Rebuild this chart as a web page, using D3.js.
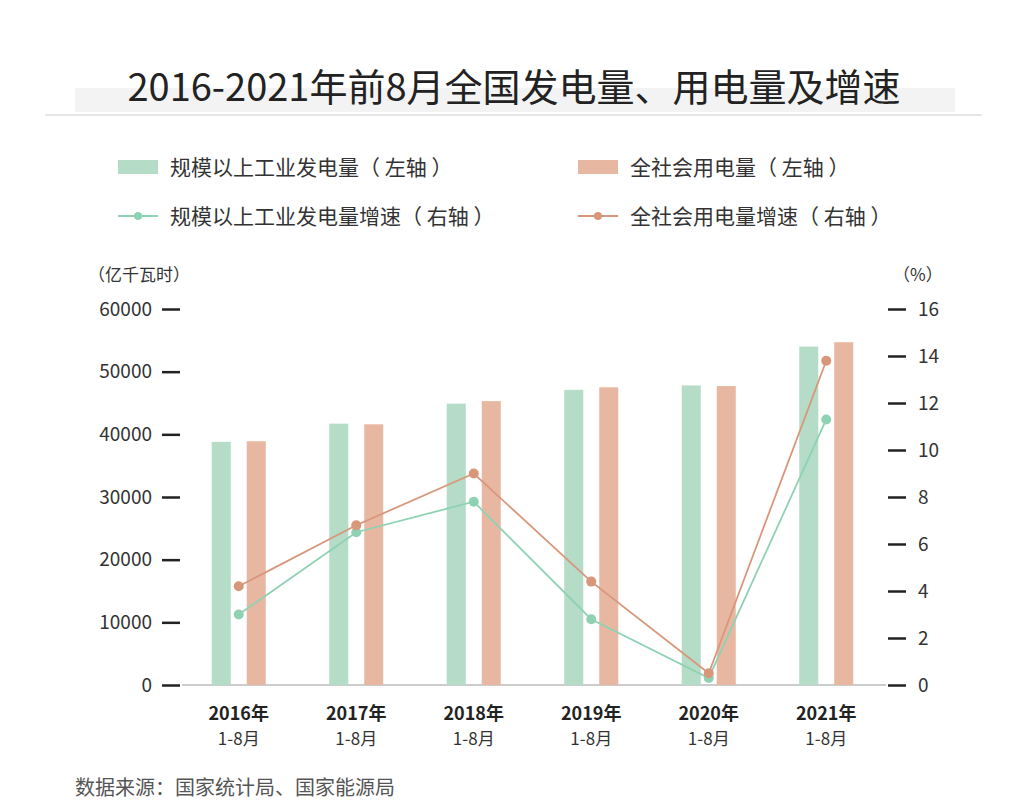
<!DOCTYPE html>
<html><head><meta charset="utf-8">
<script src="https://cdn.jsdelivr.net/npm/d3@7"></script>
<style>body{margin:0;background:#fff}text{font-family:"Noto Sans CJK SC","Noto Sans",sans-serif}</style>
</head><body>
<svg id="c" width="1024" height="803"></svg>
<script>
const years = ["2016年", "2017年", "2018年", "2019年", "2020年", "2021年"];
const genValues = [38800, 41700, 44900, 47100, 47800, 54000];
const useValues = [38900, 41600, 45300, 47500, 47700, 54700];
const genGrowth = [3.0, 6.5, 7.8, 2.8, 0.3, 11.3];
const useGrowth = [4.2, 6.8, 9.0, 4.4, 0.5, 13.8];
const leftTicks = [0, 10000, 20000, 30000, 40000, 50000, 60000];
const rightTicks = [0, 2, 4, 6, 8, 10, 12, 14, 16];

const green = "#b4dcc7", salmon = "#e8b7a2", gLine = "#8ed2b3", sLine = "#d8977b";
const svg = d3.select("#c");

// title
svg.append("rect").attr("x", 75).attr("y", 88).attr("width", 880).attr("height", 24).attr("fill", "#f3f3f3");
svg.append("text").attr("x", 514).attr("y", 101).attr("text-anchor", "middle")
  .attr("font-size", 38).attr("fill", "#222").text("2016-2021年前8月全国发电量、用电量及增速");
svg.append("line").attr("x1", 45).attr("x2", 982).attr("y1", 115).attr("y2", 115).attr("stroke", "#ccc");

// legend
const leg = [
  {x: 118, y: 167, type: "bar", c: green, t: "规模以上工业发电量（ 左轴 ）"},
  {x: 578, y: 167, type: "bar", c: salmon, t: "全社会用电量（ 左轴 ）"},
  {x: 118, y: 216, type: "line", c: gLine, t: "规模以上工业发电量增速（ 右轴 ）"},
  {x: 578, y: 216, type: "line", c: sLine, t: "全社会用电量增速（ 右轴 ）"}
];
leg.forEach(d => {
  if (d.type === "bar") svg.append("rect").attr("x", d.x).attr("y", d.y - 7).attr("width", 40).attr("height", 14).attr("fill", d.c);
  else {
    svg.append("line").attr("x1", d.x).attr("x2", d.x + 40).attr("y1", d.y).attr("y2", d.y).attr("stroke", d.c).attr("stroke-width", 2);
    svg.append("circle").attr("cx", d.x + 20).attr("cy", d.y).attr("r", 4).attr("fill", d.c);
  }
  svg.append("text").attr("x", d.x + 52).attr("y", d.y + 8).attr("font-size", 21).attr("fill", "#333").text(d.t);
});

const x = d3.scaleBand().domain(years).range([180, 885]);
const yL = d3.scaleLinear().domain([0, 60000]).range([685, 309]);
const yR = d3.scaleLinear().domain([0, 16]).range([685, 309]);

// axes units
svg.append("text").attr("x", 88).attr("y", 281).attr("font-size", 17).attr("fill", "#333").text("（亿千瓦时）");
svg.append("text").attr("x", 893).attr("y", 281).attr("font-size", 17).attr("fill", "#333").text("（%）");

const lAxis = svg.append("g").attr("transform", "translate(180,0)")
  .call(d3.axisLeft(yL).tickValues(leftTicks).tickSize(18).tickPadding(10).tickFormat(d3.format("d")));
const rAxis = svg.append("g").attr("transform", "translate(888,0)")
  .call(d3.axisRight(yR).tickValues(rightTicks).tickSize(18).tickPadding(12));
[lAxis, rAxis].forEach(a => {
  a.select(".domain").remove();
  a.selectAll("line").attr("stroke", "#222").attr("stroke-width", 2.5);
  a.selectAll("text").attr("font-size", 19).attr("fill", "#333").attr("font-family", "Noto Sans, sans-serif");
});
svg.append("line").attr("x1", 182).attr("x2", 886).attr("y1", 685).attr("y2", 685).attr("stroke", "#999");

// bars
const bw = 19;
svg.selectAll(".g").data(genValues).enter().append("rect")
  .attr("x", (d, i) => x(years[i]) + x.bandwidth() / 2 - 27)
  .attr("y", d => yL(d)).attr("width", bw).attr("height", d => 685 - yL(d)).attr("fill", green);
svg.selectAll(".u").data(useValues).enter().append("rect")
  .attr("x", (d, i) => x(years[i]) + x.bandwidth() / 2 + 8)
  .attr("y", d => yL(d)).attr("width", bw).attr("height", d => 685 - yL(d)).attr("fill", salmon);

// lines
const cx = i => x(years[i]) + x.bandwidth() / 2;
[[genGrowth, gLine], [useGrowth, sLine]].forEach(([vals, c]) => {
  svg.append("path").datum(vals).attr("fill", "none").attr("stroke", c).attr("stroke-width", 1.8)
    .attr("d", d3.line().x((d, i) => cx(i)).y(d => yR(d)));
  svg.selectAll(null).data(vals).enter().append("circle")
    .attr("cx", (d, i) => cx(i)).attr("cy", d => yR(d)).attr("r", 5).attr("fill", c);
});

// category labels
years.forEach((y, i) => {
  svg.append("text").attr("x", cx(i)).attr("y", 720).attr("text-anchor", "middle")
    .attr("font-size", 18).attr("font-weight", "bold").attr("fill", "#222").text(y);
  svg.append("text").attr("x", cx(i)).attr("y", 745).attr("text-anchor", "middle")
    .attr("font-size", 17).attr("fill", "#333").text("1-8月");
});

svg.append("text").attr("x", 75).attr("y", 795).attr("font-size", 20).attr("fill", "#555").text("数据来源：国家统计局、国家能源局");
</script>
</body></html>
